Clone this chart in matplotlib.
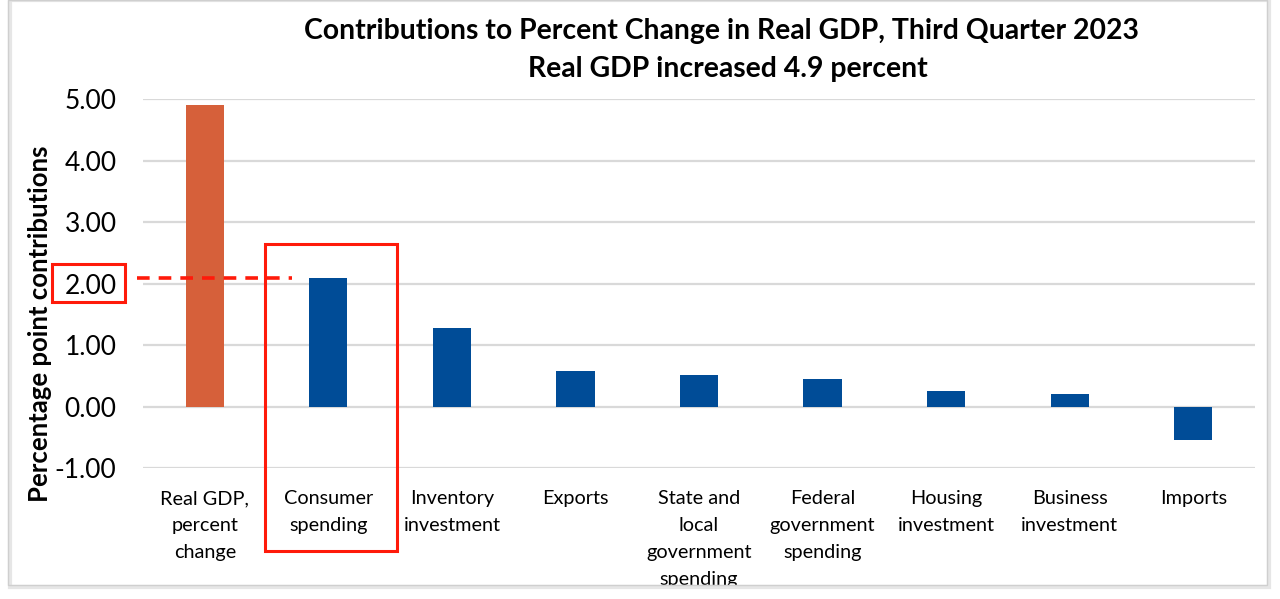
import matplotlib.pyplot as plt
from matplotlib.patches import Rectangle

plt.rcParams['font.family'] = ['Lato', 'DejaVu Sans']

categories = ['Real GDP,\npercent\nchange', 'Consumer\nspending', 'Inventory\ninvestment',
              'Exports', 'State and\nlocal\ngovernment\nspending', 'Federal\ngovernment\nspending',
              'Housing\ninvestment', 'Business\ninvestment', 'Imports']
values = [4.90, 2.09, 1.27, 0.58, 0.52, 0.44, 0.26, 0.21, -0.55]
bar_colors = ['#d6603a'] + ['#004c97'] * 8
yticks = [-1, 0, 1, 2, 3, 4, 5]

fig = plt.figure(figsize=(12.8, 5.99), dpi=100)
ax = fig.add_axes([0.1117, 0.2187, 0.8688, 0.616])

x = range(len(categories))
ax.bar(x, values, width=0.31, color=bar_colors, zorder=3)

ax.set_xlim(-0.5, len(categories) - 0.5)
ax.set_ylim(-1, 5)
ax.set_yticks(yticks)
ax.set_yticklabels(['%.2f' % v for v in yticks], fontsize=19)
ax.set_xticks(list(x))
ax.set_xticklabels(categories, fontsize=14.3, linespacing=1.7, va='top')
ax.tick_params(axis='both', length=0)
ax.tick_params(axis='y', pad=19)
ax.tick_params(axis='x', pad=16)
ax.grid(axis='y', color='#d9d9d9', linewidth=1.6, zorder=0)
for s in ax.spines.values():
    s.set_visible(False)

ax.set_ylabel('Percentage point contributions', fontsize=18.5, fontweight='bold')
ax.yaxis.set_label_coords(-0.082, 0.39)

fig.text(0.564, 0.948, 'Contributions to Percent Change in Real GDP, Third Quarter 2023',
         ha='center', va='center', fontsize=20.4, fontweight='bold')
fig.text(0.569, 0.884, 'Real GDP increased 4.9 percent',
         ha='center', va='center', fontsize=20.4, fontweight='bold')

# highlight box around consumer spending
fig.add_artist(Rectangle((265 / 1280, 1 - 551 / 599), 132 / 1280, 307 / 599,
                         fill=False, edgecolor='#ff1a0a', linewidth=2.2,
                         transform=fig.transFigure, zorder=6))
# box around 2.00 tick label
fig.add_artist(Rectangle((52 / 1280, 1 - 302 / 599), 73 / 1280, 38 / 599,
                         fill=False, edgecolor='#ff1a0a', linewidth=2.2,
                         transform=fig.transFigure, zorder=6))
# dashed line at consumer value
ax.plot([-0.55, 0.71], [values[1], values[1]], color='#ff1a0a', linestyle=(0, (3.5, 2.5)),
        linewidth=2.6, clip_on=False, zorder=5)

# chart frame, cover anything beneath it
fig.add_artist(Rectangle((0, 0), 1, 14 / 599, facecolor='white', edgecolor='none',
                         transform=fig.transFigure, zorder=7))
fig.add_artist(Rectangle((10 / 1280, 12 / 599), 1259 / 1280, 587 / 599, fill=False,
                         edgecolor='#e6e6e6', linewidth=3, transform=fig.transFigure, zorder=8))
fig.add_artist(Rectangle((8 / 1280, 14 / 599), 1259 / 1280, 585 / 599, fill=False,
                         edgecolor='#cfcfcf', linewidth=1, transform=fig.transFigure, zorder=8))

fig.savefig('out.png', dpi=100)
